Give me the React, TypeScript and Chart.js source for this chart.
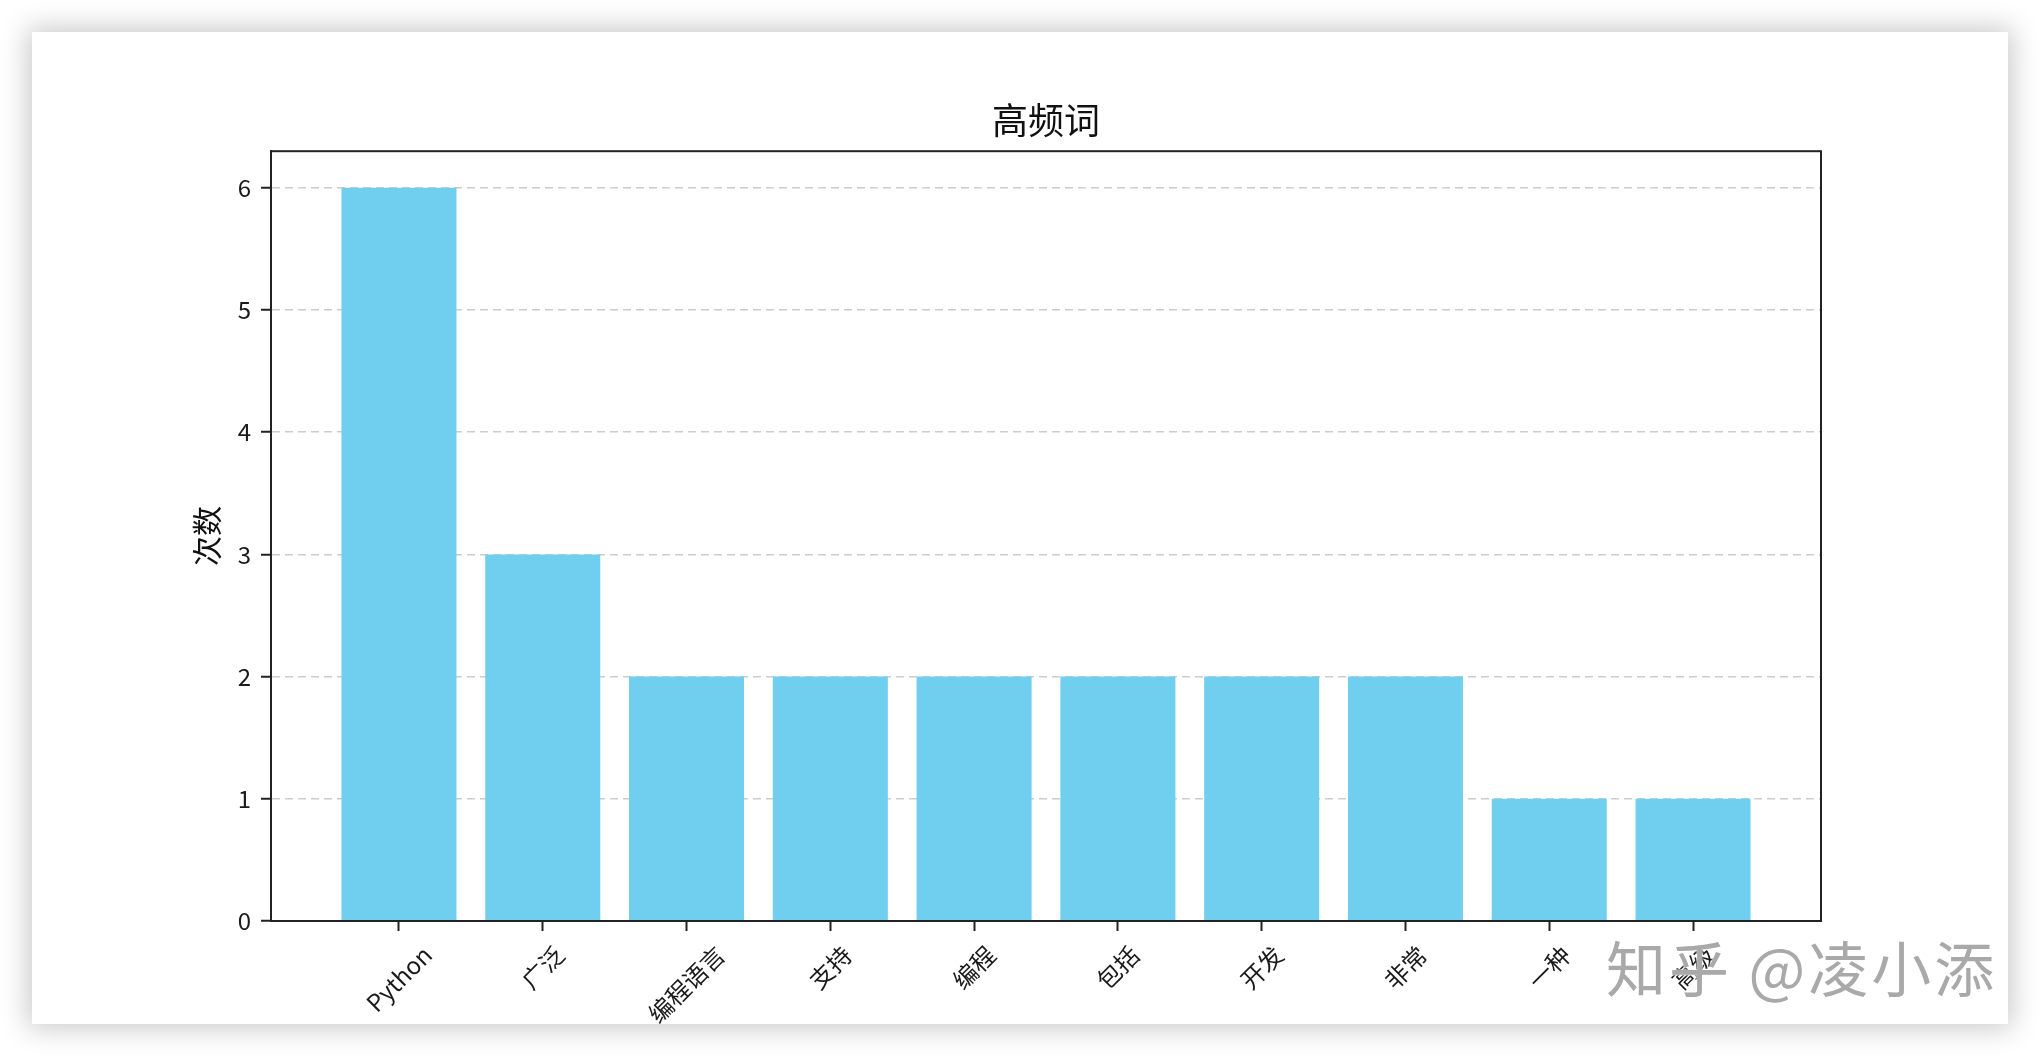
import React, { useEffect, useRef } from "react";
import { Chart, registerables } from "chart.js";

Chart.register(...registerables);

const categories: string[] = ["Python", "广泛", "编程语言", "支持", "编程", "包括", "开发", "非常", "一种", "高级"];
const counts: number[] = [6, 3, 2, 2, 2, 2, 2, 2, 1, 1];
const yTicks: number[] = [0, 1, 2, 3, 4, 5, 6];
const titleText = "高频词";
const yLabel = "次数";
const watermark = "知乎 @凌小添";

const FONT = '"Noto Sans CJK SC", "Noto Sans", sans-serif';
const BAR_COLOR = "rgb(112, 207, 238)";
const AXIS_COLOR = "#222222";

const framePlugin = {
  id: "frame",
  afterDatasetsDraw(chart: any) {
    const { ctx, chartArea } = chart;
    ctx.save();
    ctx.strokeStyle = AXIS_COLOR;
    ctx.lineWidth = 2;
    ctx.strokeRect(chartArea.left, chartArea.top, chartArea.right - chartArea.left, chartArea.bottom - chartArea.top);
    ctx.restore();
  },
};

const xLabelPlugin = {
  id: "xlabels",
  afterDraw(chart: any) {
    const { ctx } = chart;
    const xs = chart.scales.x;
    const size = 24;
    ctx.save();
    ctx.font = `${size}px ${FONT}`;
    ctx.fillStyle = "#1a1a1a";
    ctx.textAlign = "center";
    ctx.textBaseline = "middle";
    const topY = xs.top + 10 + 11;
    categories.forEach((label, i) => {
      const x = xs.getPixelForValue(i);
      const w = ctx.measureText(label).width;
      const half = ((w + size) * Math.SQRT1_2) / 2;
      ctx.save();
      ctx.translate(x, topY + half);
      ctx.rotate(-Math.PI / 4);
      ctx.fillText(label, 0, 0);
      ctx.restore();
    });
    ctx.restore();
  },
};

export default function App() {
  const canvasRef = useRef<HTMLCanvasElement | null>(null);

  useEffect(() => {
    document.body.style.margin = "0";
    const canvas = canvasRef.current;
    if (!canvas) return;
    const chart = new Chart(canvas, {
      type: "bar",
      data: {
        datasets: [
          {
            label: yLabel,
            data: counts.map((v, i) => ({ x: i, y: v })),
            backgroundColor: BAR_COLOR,
            borderWidth: 0,
            barPercentage: 0.8,
            categoryPercentage: 1,
          },
        ],
      },
      options: {
        animation: false,
        responsive: false,
        devicePixelRatio: 1,
        layout: { padding: { left: 171, right: 219, top: 94, bottom: 35 } },
        plugins: {
          legend: { display: false },
          tooltip: { enabled: false },
          title: {
            display: true,
            text: titleText,
            fullSize: false,
            color: "#111111",
            font: { family: FONT, size: 36, weight: "normal" },
            padding: { top: 5, bottom: 9 },
          },
        },
        scales: {
          x: {
            type: "linear",
            min: -0.89,
            max: 9.89,
            offset: false,
            afterFit: (s: any) => {
              s.height = 100;
            },
            ticks: { display: false, stepSize: 1, includeBounds: false },
            grid: {
              offset: false,
              drawOnChartArea: false,
              drawTicks: true,
              tickLength: 10,
              tickColor: AXIS_COLOR,
              tickWidth: 2,
            },
            border: { display: true, color: AXIS_COLOR, width: 2 },
          },
          y: {
            type: "linear",
            min: 0,
            max: 6.3,
            afterFit: (s: any) => {
              s.width = 100;
            },
            afterBuildTicks: (s: any) => {
              s.ticks = yTicks.map((v) => ({ value: v }));
            },
            ticks: {
              stepSize: 1,
              includeBounds: false,
              padding: 10,
              color: "#1a1a1a",
              font: { family: FONT, size: 24 },
            },
            grid: {
              offset: false,
              color: "#cccccc",
              lineWidth: 1.5,
              drawTicks: true,
              tickLength: 10,
              tickColor: AXIS_COLOR,
              tickWidth: 2,
              tickBorderDash: [],
            },
            border: { display: true, color: AXIS_COLOR, width: 2, dash: [8, 5] },
            title: {
              display: true,
              text: yLabel,
              color: "#111111",
              font: { family: FONT, size: 30 },
              padding: { top: 18, bottom: 0 },
            },
          },
        },
      },
      plugins: [framePlugin, xLabelPlugin],
    });
    return () => chart.destroy();
  }, []);

  return (
    <div
      style={{
        position: "absolute",
        left: 0,
        top: 0,
        width: 2040,
        height: 1056,
        background: "#ffffff",
        overflow: "hidden",
      }}
    >
      <div
        style={{
          position: "absolute",
          left: 32,
          top: 32,
          width: 1976,
          height: 992,
          background: "#ffffff",
          boxShadow: "0 0 26px 4px rgba(0,0,0,0.22)",
        }}
      />
      <canvas
        ref={canvasRef}
        width={2040}
        height={1056}
        style={{ position: "absolute", left: 0, top: 0, width: 2040, height: 1056 }}
      />
      <div
        style={{
          position: "absolute",
          left: 1606,
          top: 936,
          fontFamily: FONT,
          fontSize: 60,
          letterSpacing: 3,
          lineHeight: 1,
          color: "rgba(160,160,160,0.9)",
          whiteSpace: "nowrap",
          textShadow: "0 0 2px #fff, 0 0 2px #fff",
        }}
      >
        {watermark}
      </div>
    </div>
  );
}
